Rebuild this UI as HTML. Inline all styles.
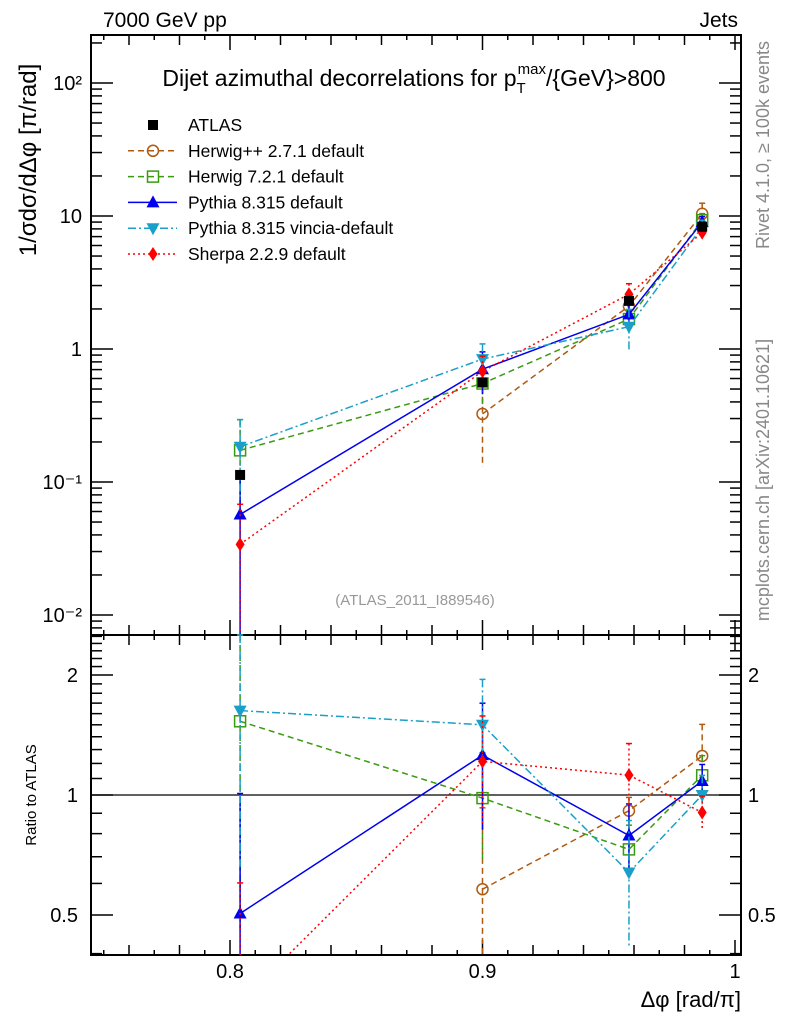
<!DOCTYPE html>
<html><head><meta charset="utf-8"><style>
html,body{margin:0;padding:0;background:#fff;}
svg{display:block;font-family:"Liberation Sans",sans-serif;}
</style></head><body>
<svg id="c" width="786" height="1024" xmlns="http://www.w3.org/2000/svg"></svg>
<script>
const xs = [0.804, 0.9, 0.958, 0.987];
const atlas = [0.113, 0.56, 2.3, 8.3];
const atlasErr = [0.04, 0.06, 0.06, 0.06];
const names = ["Herwig++ 2.7.1 default","Herwig 7.2.1 default","Pythia 8.315 default","Pythia 8.315 vincia-default","Sherpa 2.2.9 default"];
const herwigpp = [null, 0.325, 2.1, 10.4];
const herwig7 = [0.173, 0.55, 1.68, 9.3];
const pythia = [0.057, 0.705, 1.82, 9.0];
const vincia = [0.184, 0.84, 1.47, 8.3];
const sherpa = [0.034, 0.68, 2.58, 7.5];
const herwigppErr = [0, 0.6, 0.08, 0.2];
const herwig7Err = [0.7, 0.3, 0.15, 0.12];
const pythiaErr = [1.0, 0.35, 0.2, 0.1];
const vinciaErr = [0.6, 0.3, 0.35, 0.12];
const sherpaErr = [1.0, 0.3, 0.2, 0.1];
const mainTicks = ["10²","10","1","10⁻¹","10⁻²"];
const ratioTicks = [2,1,0.5];
const xTicks = [0.8,0.9,1];

const svg=document.getElementById('c');
const NS='http://www.w3.org/2000/svg';
function mk(tag,at,parent){const e=document.createElementNS(NS,tag);for(const k in at)e.setAttribute(k,at[k]);(parent||svg).appendChild(e);return e;}
const L=91,R=741,T=35,MB=635,RB=955;
const x0=0.8,xpx0=230,xscale=2525;
function X(v){return xpx0+(v-x0)*xscale;}
function Y(v){return 349-133*Math.log10(v);}
function YR(v){return 795-120*Math.log2(v);}
function clampY(y,top,bot){return Math.max(top,Math.min(bot,y));}

let f1=mk('rect',{x:L,y:T,width:R-L,height:MB-T,fill:'none',stroke:'#000','stroke-width':2});

let f2=mk('rect',{x:L,y:MB,width:R-L,height:RB-MB,fill:'none',stroke:'#000','stroke-width':2});


const tg=mk('g',{stroke:'#000','stroke-width':1.5});

for(let i=75;i<=100;i++){const v=i/100;const px=X(v);if(px<L||px>R)continue;
 const len=(i%10==0)?15:(i%2==0?10:5);
 [[MB,-1],[T,1],[RB,-1],[MB,1]].forEach(([y,d])=>mk('line',{x1:px,x2:px,y1:y,y2:y+d*len},tg));}
for(let e=-3;e<=2;e++){for(let m=1;m<10;m++){const v=m*Math.pow(10,e);const py=Y(v);if(py<T||py>MB)continue;
 const len=m==1?22:11;mk('line',{x1:L,x2:L+len,y1:py,y2:py},tg);mk('line',{x1:R,x2:R-len,y1:py,y2:py},tg);}}
for(let i=4;i<=25;i++){const v=i/10;const py=YR(v);if(py<MB||py>RB)continue;
 const len=(v==0.5||v==1||v==2)?22:11;mk('line',{x1:L,x2:L+len,y1:py,y2:py},tg);mk('line',{x1:R,x2:R-len,y1:py,y2:py},tg);}
let ul=mk('line',{x1:L,x2:R,y1:YR(1),y2:YR(1),stroke:'#000','stroke-width':1.3});


function txt(s,at,name){const t=mk('text',at);t.textContent=s;return t;}
[2,1,0,-1,-2].forEach((e,i)=>txt(mainTicks[i],{x:82,y:Y(Math.pow(10,e))+7,'font-size':20,'text-anchor':'end'},'y-tick-label'));
ratioTicks.forEach(v=>{txt(String(v),{x:78,y:YR(v)+7,'font-size':20,'text-anchor':'end'},'ratio-y-tick-left');
 txt(String(v),{x:748,y:YR(v)+7,'font-size':20},'ratio-y-tick-right');});
xTicks.forEach(v=>txt(String(v),{x:X(v),y:978,'font-size':20,'text-anchor':'middle'},'x-tick-label'));

txt('Δφ [rad/π]',{x:741,y:1007,'font-size':22,'text-anchor':'end'},'x-axis-title');
txt('7000 GeV pp',{x:103,y:27,'font-size':21},'beam-label');
txt('Jets',{x:738,y:27,'font-size':21,'text-anchor':'end'},'process-label');
const tt=txt('',{x:414,y:86,'font-size':23,'text-anchor':'middle'},'plot-title');
tt.innerHTML='Dijet azimuthal decorrelations for p<tspan font-size="15" dy="7">T</tspan><tspan font-size="15" dx="-8" dy="-19">max</tspan><tspan dy="12">/{GeV}&gt;800</tspan>';
txt('1/σdσ/dΔφ [π/rad]',{transform:'translate(36,160) rotate(-90)','font-size':24,'text-anchor':'middle'},'y-axis-title');
txt('Ratio to ATLAS',{transform:'translate(36,795) rotate(-90)','font-size':15,'text-anchor':'middle'},'ratio-y-axis-title');
txt('Rivet 4.1.0, ≥ 100k events',{transform:'translate(769,145) rotate(-90)','font-size':18,'text-anchor':'middle',fill:'#888'},'rivet-label');
txt('mcplots.cern.ch [arXiv:2401.10621]',{transform:'translate(769,480) rotate(-90)','font-size':18,'text-anchor':'middle',fill:'#888'},'mcplots-label');
txt('(ATLAS_2011_I889546)',{x:415,y:605,'font-size':15,'text-anchor':'middle',fill:'#999'},'analysis-id');

const series=[
 {n:names[0],v:herwigpp,e:herwigppErr,c:'#b05a10',d:'6,4',m:'circle'},
 {n:names[1],v:herwig7,e:herwig7Err,c:'#3a9a10',d:'6,4',m:'square'},
 {n:names[2],v:pythia,e:pythiaErr,c:'#0000ee',d:'',m:'tri'},
 {n:names[3],v:vincia,e:vinciaErr,c:'#1aa0c8',d:'8,3,2,3',m:'itri'},
 {n:names[4],v:sherpa,e:sherpaErr,c:'#ff0000',d:'2,3',m:'diamond'}];
function marker(m,x,y,c,g){
 if(m=='circle')return mk('circle',{cx:x,cy:y,r:5.5,fill:'none',stroke:c,'stroke-width':1.5},g);
 if(m=='square')return mk('rect',{x:x-5.5,y:y-5.5,width:11,height:11,fill:'none',stroke:c,'stroke-width':1.5},g);
 if(m=='tri')return mk('polygon',{points:`${x},${y-7} ${x-6.5},${y+5} ${x+6.5},${y+5}`,fill:c},g);
 if(m=='itri')return mk('polygon',{points:`${x},${y+7} ${x-6.5},${y-5} ${x+6.5},${y-5}`,fill:c},g);
 if(m=='diamond')return mk('polygon',{points:`${x},${y-7} ${x-4.5},${y} ${x},${y+7} ${x+4.5},${y}`,fill:c},g);
 return mk('rect',{x:x-5,y:y-5,width:10,height:10,fill:c},g);
}
function drawSeries(s,panel){
 const g=mk('g',{});
 
 
 const top=panel=='main'?T:MB,bot=panel=='main'?MB:RB;
 const vals=s.v.map((v,i)=>v==null?null:(panel=='main'?v:v/atlas[i]));
 const fy=panel=='main'?Y:YR;
 let pts=[];
 vals.forEach((v,i)=>{if(v==null)return;pts.push([X(xs[i]),fy(v)]);});
 const cp='clip-'+panel;
 mk('polyline',{points:pts.map(p=>p.join(',')).join(' '),fill:'none',stroke:s.c,'stroke-width':1.5,'stroke-dasharray':s.d,'clip-path':`url(#${cp})`},g);
 vals.forEach((v,i)=>{if(v==null)return;const px=X(xs[i]);const er=s.e[i];
  const yu=clampY(fy(v*(1+er)),top,bot);const yd=er>=1?bot:clampY(fy(v*(1-er)),top,bot);
  mk('line',{x1:px,x2:px,y1:yu,y2:yd,stroke:s.c,'stroke-width':1.5,'stroke-dasharray':s.d},g);
  mk('line',{x1:px-3,x2:px+3,y1:yu,y2:yu,stroke:s.c,'stroke-width':1.5},g);
  const py=fy(v);if(py>=top&&py<=bot)marker(s.m,px,py,s.c,g);});
}
const defs=mk('defs',{});
const c1=mk('clipPath',{id:'clip-main'},defs);mk('rect',{x:L,y:T,width:R-L,height:MB-T},c1);
const c2=mk('clipPath',{id:'clip-ratio'},defs);mk('rect',{x:L,y:MB,width:R-L,height:RB-MB},c2);
series.forEach(s=>drawSeries(s,'main'));
series.forEach(s=>drawSeries(s,'ratio'));
const ag=mk('g',{});


atlas.forEach((v,i)=>{const px=X(xs[i]);
 mk('line',{x1:px,x2:px,y1:Y(v*(1+atlasErr[i])),y2:Y(v*(1-atlasErr[i])),stroke:'#000','stroke-width':1.5},ag);
 marker('sq',px,Y(v),'#000',ag);});

const lg=mk('g',{});


const ly0=125,ldy=25.8;
const e0=mk('g',{},lg);
marker('sq',153,ly0,'#000',e0);
const t0=mk('text',{x:188,y:ly0+6,'font-size':17.5},e0);t0.textContent='ATLAS';
series.forEach((s,i)=>{const y=ly0+ldy*(i+1);
 const e=mk('g',{},lg);
 
 
 mk('line',{x1:128,x2:177,y1:y,y2:y,stroke:s.c,'stroke-width':1.5,'stroke-dasharray':s.d},e);
 marker(s.m,153,y,s.c,e);
 const t=mk('text',{x:188,y:y+6,'font-size':17.5},e);t.textContent=s.n;});
</script>
</body></html>
